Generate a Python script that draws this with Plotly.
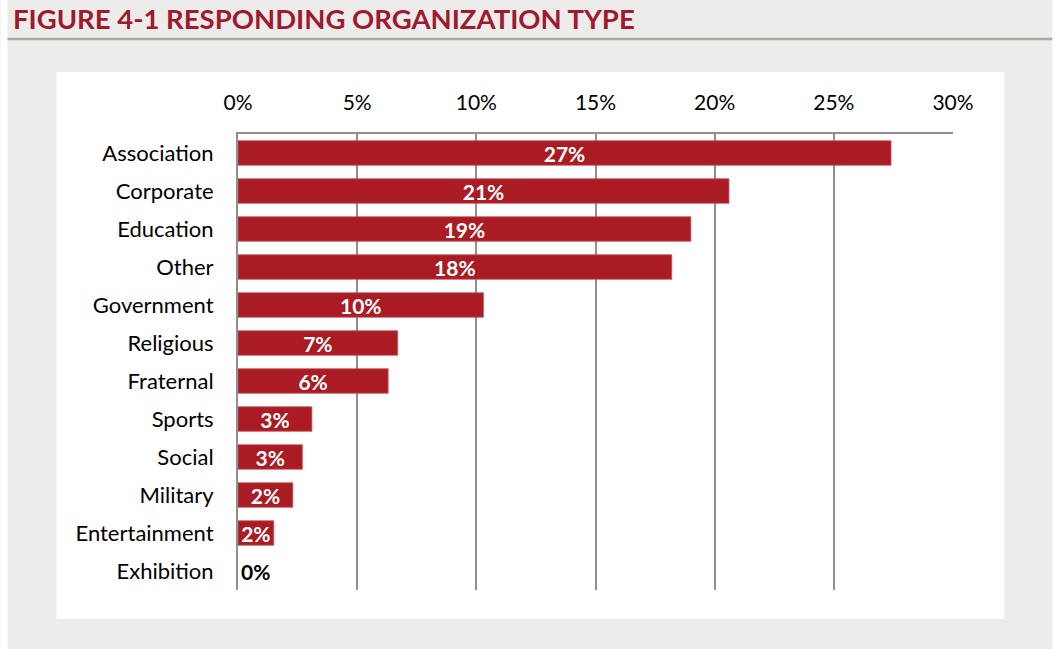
import plotly.graph_objects as go

# Share of responding organizations by type (fraction of respondents)
categories = [
    "Association", "Corporate", "Education", "Other", "Government", "Religious",
    "Fraternal", "Sports", "Social", "Military", "Entertainment", "Exhibition",
]
shares = [0.274, 0.206, 0.190, 0.182, 0.103, 0.067, 0.063, 0.031, 0.027, 0.023, 0.015, 0.0]
x_ticks = [0, 0.05, 0.10, 0.15, 0.20, 0.25, 0.30]
x_tick_labels = ["0%", "5%", "10%", "15%", "20%", "25%", "30%"]

W, H = 1057, 649
# plot-area edges in pixels
L, R, T, B = 237.5, 952.7, 134.0, 590.0
FONT = "Lato"
BAR = "#AA1B23"
TITLE_RED = "#9E1A2F"
GRID = "#8F8F8F"
BG = "#EDECEA"


def fx(px):
    return (px - L) / (R - L)


def fy(py):
    return (B - py) / (B - T)


labels = [f"{round(v * 100):.0f}%" for v in shares]
positions = ["inside" if v > 0 else "outside" for v in shares]
text_colors = ["white" if v > 0 else "black" for v in shares]
edge_widths = [0.8 if v > 0 else 0 for v in shares]

fig = go.Figure(
    go.Bar(
        x=shares,
        y=categories,
        orientation="h",
        marker=dict(color=BAR, line=dict(color="#C4555C", width=edge_widths)),
        text=labels,
        textposition=positions,
        insidetextanchor="middle",
        textfont=dict(family=FONT, size=21, color=text_colors, weight="bold"),
        cliponaxis=False,
        hoverinfo="skip",
    )
)

shapes = [
    # white page edges around the grey card
    dict(type="rect", xref="paper", yref="paper", x0=fx(0), x1=fx(7), y0=fy(H), y1=fy(0),
         fillcolor="white", line_width=0, layer="below"),
    dict(type="rect", xref="paper", yref="paper", x0=fx(1052), x1=fx(W), y0=fy(H), y1=fy(0),
         fillcolor="white", line_width=0, layer="below"),
    # rule under the heading
    dict(type="line", xref="paper", yref="paper", x0=fx(7), x1=fx(1052), y0=fy(39), y1=fy(39),
         line=dict(color="#ADA7A2", width=2.5)),
    # white chart panel
    dict(type="rect", xref="paper", yref="paper", x0=fx(56), x1=fx(1004), y0=fy(619), y1=fy(72),
         fillcolor="white", line_width=0, layer="below"),
]

fig.update_layout(
    width=W,
    height=H,
    margin=dict(l=L, r=W - R, t=T, b=H - B, pad=0),
    paper_bgcolor=BG,
    plot_bgcolor="white",
    showlegend=False,
    bargap=0.355,
    shapes=shapes,
    uniformtext=dict(minsize=21, mode="show"),
    font=dict(family=FONT, color="black"),
    annotations=[
        dict(
            text="FIGURE 4-1 RESPONDING ORGANIZATION TYPE",
            xref="paper", yref="paper", x=fx(10), y=fy(19),
            xanchor="left", yanchor="middle", showarrow=False,
            font=dict(family=FONT, size=27.5, color=TITLE_RED, weight="bold"),
        )
    ],
)

fig.update_xaxes(
    side="top",
    range=[0, 0.30],
    tickvals=x_ticks,
    ticktext=x_tick_labels,
    tickfont=dict(family=FONT, size=21, color="black"),
    showgrid=True,
    gridcolor=GRID,
    gridwidth=1.5,
    showline=True,
    linecolor=GRID,
    linewidth=2,
    zeroline=False,
    ticks="",
    ticklabelstandoff=14,
    fixedrange=True,
)
fig.update_yaxes(
    autorange="reversed",
    tickfont=dict(family=FONT, size=22, color="black"),
    showgrid=False,
    showline=True,
    linecolor=GRID,
    linewidth=2,
    ticks="",
    ticklabelstandoff=18,
    fixedrange=True,
)

fig.write_html("out.html")
